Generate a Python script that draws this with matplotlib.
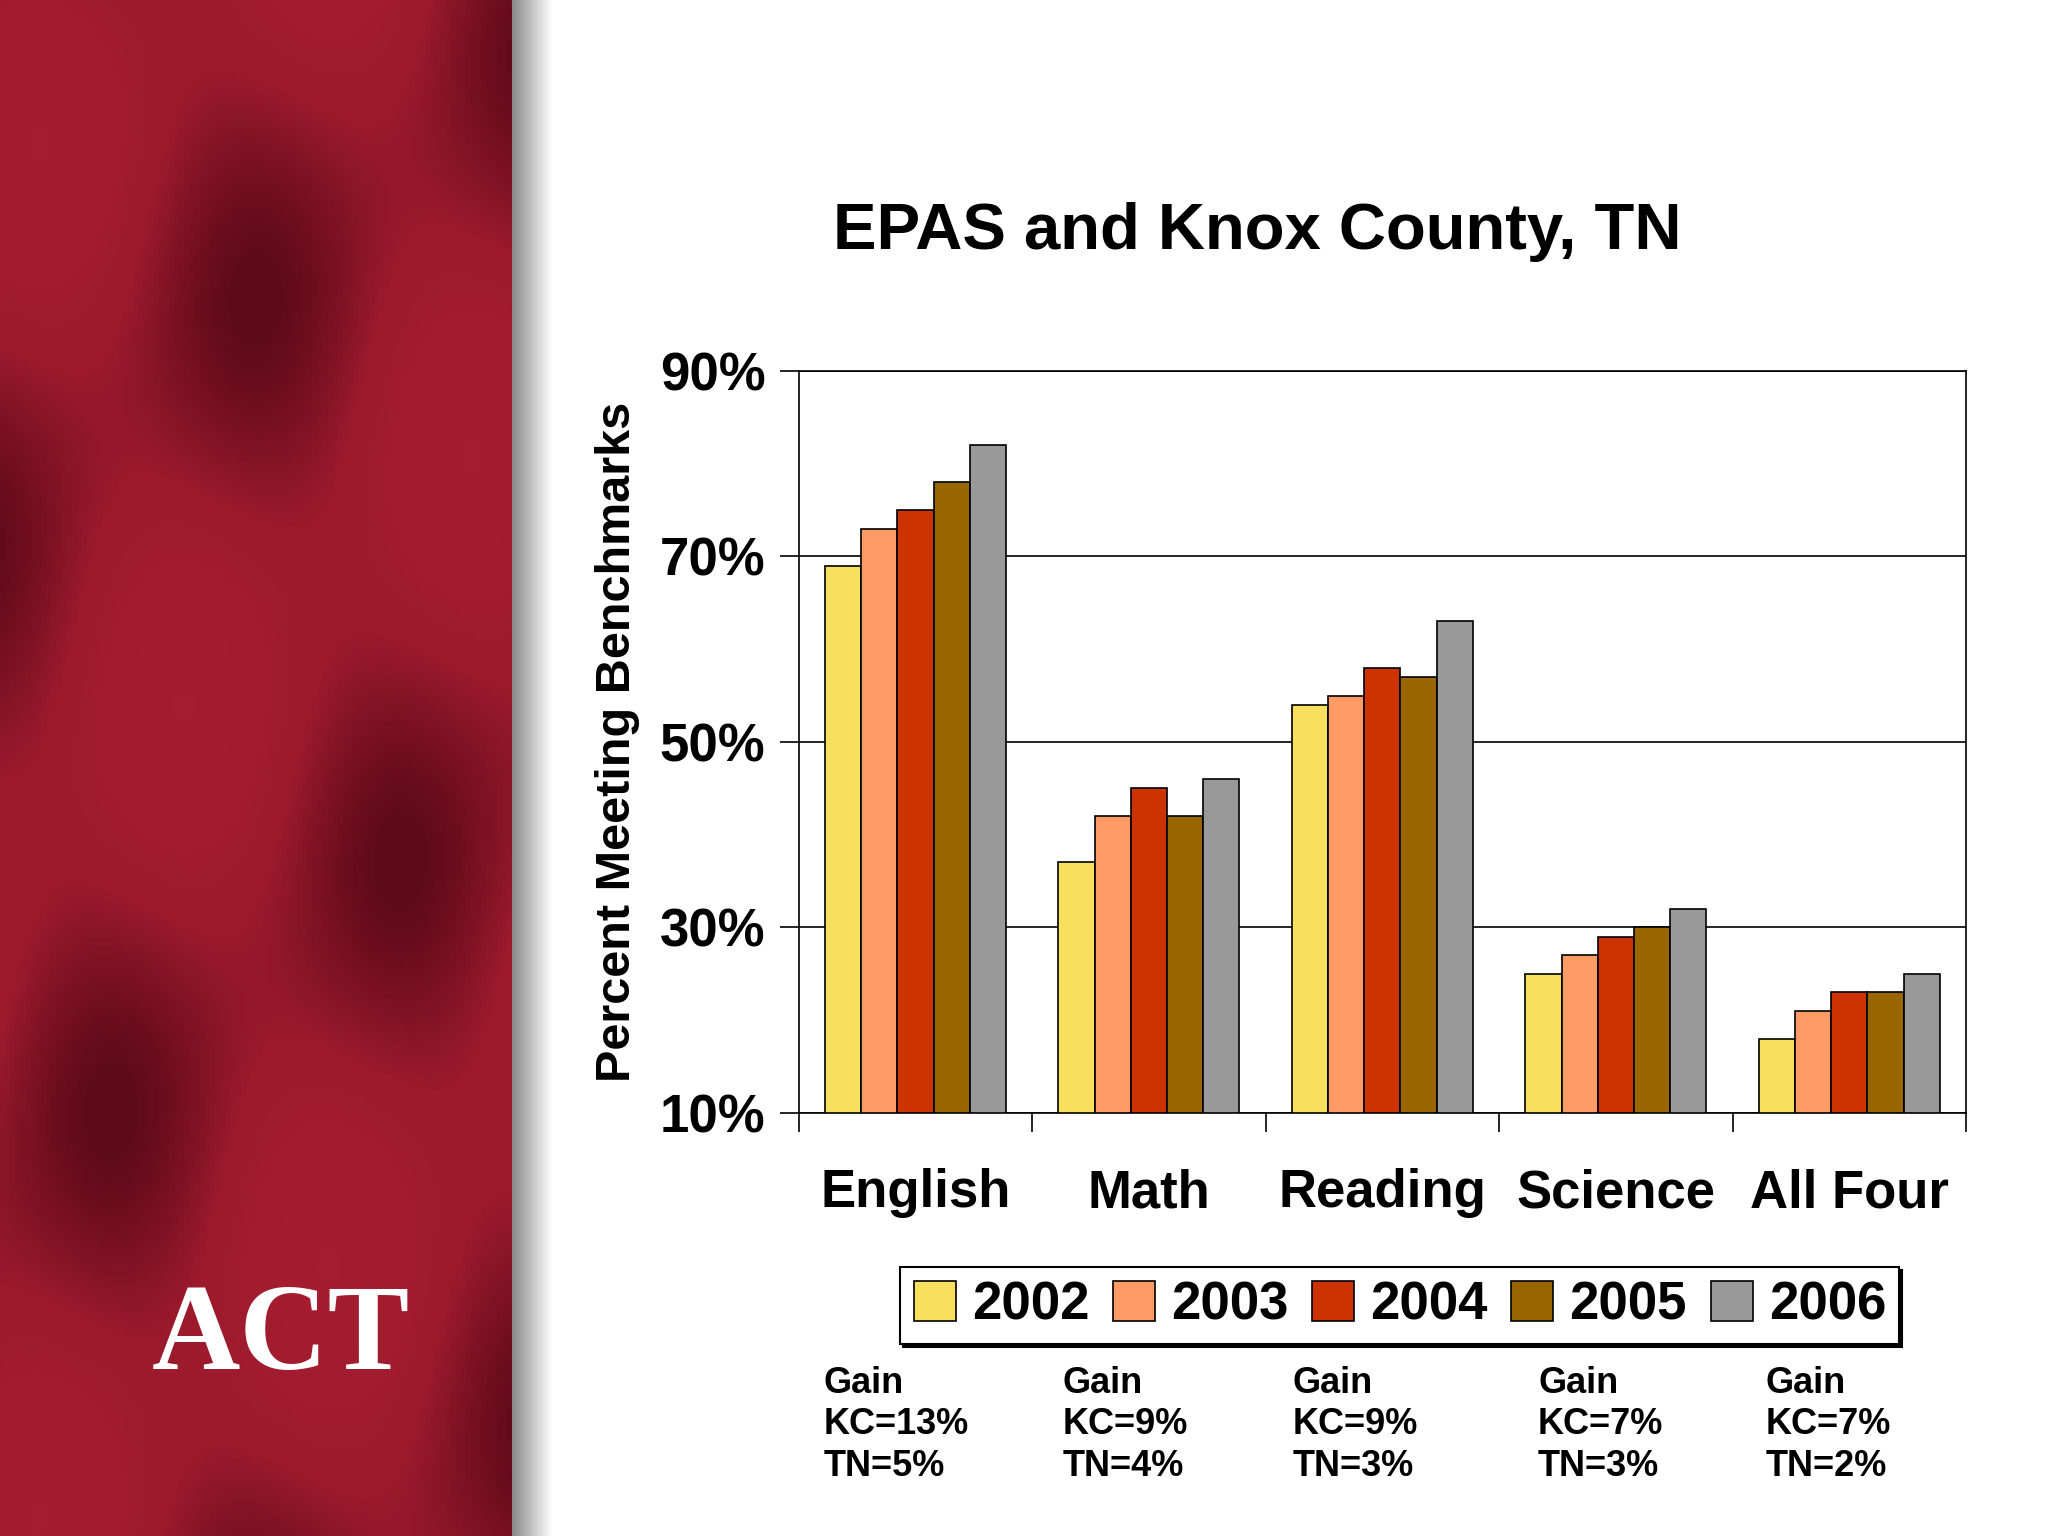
import numpy as np
import matplotlib
matplotlib.use("Agg")
import matplotlib.pyplot as plt
from matplotlib.colors import LinearSegmentedColormap

plt.rcParams['font.family'] = ['Liberation Sans', 'DejaVu Sans']
plt.rcParams['font.weight'] = 'bold'

categories = ["English", "Math", "Reading", "Science", "All Four"]
years = ["2002", "2003", "2004", "2005", "2006"]
v2002 = [69, 37, 54, 25, 18]
v2003 = [73, 42, 55, 27, 21]
v2004 = [75, 45, 58, 29, 23]
v2005 = [78, 42, 57, 30, 23]
v2006 = [82, 46, 63, 32, 25]
series = [v2002, v2003, v2004, v2005, v2006]
colors = ["#F7E05E", "#FF9C66", "#CC3300", "#996600", "#999999"]
gains = ["Gain\nKC=13%\nTN=5%", "Gain\nKC=9%\nTN=4%", "Gain\nKC=9%\nTN=3%",
         "Gain\nKC=7%\nTN=3%", "Gain\nKC=7%\nTN=2%"]
yticks = [10, 30, 50, 70, 90]

fig = plt.figure(figsize=(20.48, 15.36), dpi=100)
fig.patch.set_facecolor("white")

bg = fig.add_axes([0, 0, 0.25, 1])
yy, xx = np.mgrid[0:1:300j, 0:1:100j]
tex = 0.5 + 0.25*np.sin(yy*14 + xx*4) + 0.2*np.cos(yy*7 - xx*9)
cm = LinearSegmentedColormap.from_list("r", ["#5e0a18", "#9b1a2c", "#a51e30"])
bg.imshow(tex, cmap=cm, aspect='auto', extent=[0, 1, 0, 1])
bg.axis("off")
sh = fig.add_axes([0.25, 0, 0.02, 1])
grad = np.linspace(0, 1, 50)[None, :]
sh.imshow(grad, cmap=LinearSegmentedColormap.from_list("s", ["#8a8a8a", "#ffffff"]),
          aspect='auto', extent=[0, 1, 0, 1])
sh.axis("off")
fig.text(0.137, 0.092, "ACT", color="white", fontsize=88, family="Liberation Serif",
         weight="bold", ha="center", va="bottom")

ax = fig.add_axes([0.390, 0.2755, 0.570, 0.483])
w = 0.155
x = np.arange(len(categories))
for i, (s, c) in enumerate(zip(series, colors)):
    ax.bar(x + (i - 2) * w, [v - 10 for v in s], w, bottom=10, color=c,
           edgecolor="black", linewidth=1.2, label=years[i], zorder=3)
ax.set_xlim(-0.5, 4.5)
ax.set_ylim(10, 90)
ax.set_yticks(yticks)
ax.set_yticklabels([f"{t}%" for t in yticks], fontsize=38, fontweight="bold")
ax.yaxis.grid(True, color="black", linewidth=1.2, zorder=0)
ax.set_xticks(np.arange(-0.5, 5, 1))
ax.set_xticklabels([])
ax.tick_params(axis='x', length=14, width=1.2)
ax.tick_params(axis='y', length=14, width=1.2, pad=10)
for i, c in enumerate(categories):
    ax.text(i, -0.075, c, transform=ax.get_xaxis_transform(), ha="center", va="top",
            fontsize=38, fontweight="bold")
for sp in ax.spines.values():
    sp.set_linewidth(1.2)
ax.set_ylabel("Percent Meeting Benchmarks", fontsize=35, fontweight="bold", labelpad=14)

fig.text(0.614, 0.838, "EPAS and Knox County, TN", fontsize=47, fontweight="bold", ha="center")

leg = fig.legend(loc="center", bbox_to_anchor=(0.6835, 0.150), ncol=5, fontsize=38,
                 frameon=True, fancybox=False, shadow={'color': 'black', 'alpha': 1},
                 edgecolor="black", handlelength=0.8,
                 handleheight=0.8, handletextpad=0.3, columnspacing=0.45, borderpad=0.25)
leg.get_frame().set_linewidth(1.5)
for t in leg.get_texts():
    t.set_fontweight("bold")

gx = [0.402, 0.519, 0.631, 0.751, 0.862]
for g, gxx in zip(gains, gx):
    fig.text(gxx, 0.111, g, fontsize=26, fontweight="bold", va="top", ha="left",
             linespacing=1.25)

fig.savefig("out.png", dpi=100)
